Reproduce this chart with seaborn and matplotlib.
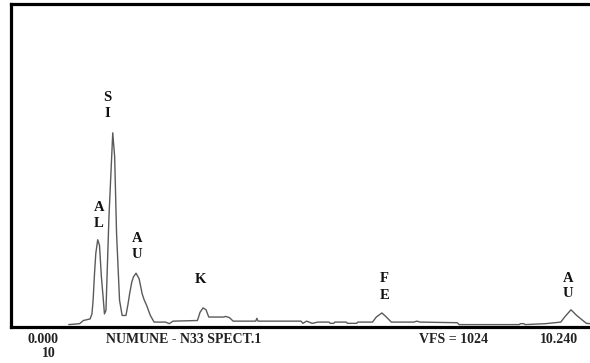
import matplotlib
matplotlib.use("Agg")
import matplotlib.pyplot as plt
import seaborn as sns
import pandas as pd

sns.set_style("white")
plt.rcParams["font.family"] = ["Liberation Serif", "DejaVu Serif"]

# EDS spectrum trace: energy (keV) and counts
energy_kev = [
    1.002, 1.191, 1.257, 1.373, 1.405, 1.425, 1.450, 1.472, 1.505, 1.536,
    1.569, 1.600, 1.622, 1.648, 1.700, 1.766, 1.799, 1.832, 1.884, 1.929,
    1.995, 2.030, 2.059, 2.095, 2.125, 2.170, 2.224, 2.276, 2.310, 2.354,
    2.418, 2.484, 2.681, 2.747, 2.811, 3.236, 3.281, 3.333, 3.385, 3.432,
    3.693, 3.726, 3.792, 3.856, 4.248, 4.267, 4.288, 5.033, 5.066, 5.130,
    5.229, 5.326, 5.520, 5.540, 5.600, 5.620, 5.818, 5.840, 6.000, 6.020,
    6.274, 6.340, 6.437, 6.503, 6.601, 6.993, 7.045, 7.097, 7.745, 7.778,
    8.823, 8.840, 8.900, 8.920, 9.280, 9.542, 9.609, 9.719, 9.818, 9.986,
    10.240,
]
counts = [
    6, 9, 19, 24, 40, 83, 170, 232, 275, 257,
    157, 90, 40, 51, 347, 614, 538, 295, 83, 35,
    35, 70, 104, 140, 157, 169, 151, 104, 85, 67,
    35, 14, 14, 9, 17, 19, 45, 59, 53, 30,
    30, 32, 28, 17, 17, 26, 17, 17, 10, 17,
    10, 14, 14, 10, 10, 14, 14, 10, 10, 14,
    14, 30, 43, 32, 14, 14, 17, 14, 12, 6,
    6, 9, 9, 6, 9, 14, 30, 53, 35, 10,
    6,
]

# Peak identification labels (letters stacked vertically)
peak_letters = ["S", "I", "A", "L", "A", "U", "K", "F", "E", "A", "U"]
peak_x = [1.672, 1.672, 1.524, 1.524, 2.184, 2.184, 3.295, 6.483, 6.483, 9.672, 9.672]
peak_y = [725, 676, 378, 328, 279, 229, 148, 151, 98, 151, 104]

x_start_label = "0.000"
x_end_label = "10.240"
y_min_label = "10"
title_label = "NUMUNE - N33 SPECT.1"
vfs_label = "VFS = 1024"
vfs = 1024
x_range = 10.24

df = pd.DataFrame({"energy": energy_kev, "counts": counts})

W, H = 590, 363
fig = plt.figure(figsize=(W / 100, H / 100), dpi=100)
ax = fig.add_axes([11 / W, 36.5 / H, 590 / W, 323 / H])

sns.lineplot(data=df, x="energy", y="counts", ax=ax, color="#5a5a5a",
             linewidth=1.0, estimator=None, sort=False)

ax.set_xlim(0, x_range)
ax.set_ylim(0, vfs)
ax.set_xticks([])
ax.set_yticks([])
ax.set_xlabel("")
ax.set_ylabel("")
for side in ["left", "top", "bottom", "right"]:
    ax.spines[side].set_color("black")
    ax.spines[side].set_linewidth(2.3)

for letter, px, py in zip(peak_letters, peak_x, peak_y):
    ax.text(px, py, letter, ha="center", va="center", fontsize=10.5,
            fontweight="bold", color="#111111")

label_style = dict(ha="center", va="center", fontsize=10,
                   fontweight="bold", color="#222222")
fig.text(43 / W, 1 - 339.5 / H, x_start_label, **label_style)
fig.text(49 / W, 1 - 353.5 / H, y_min_label, **label_style)
fig.text(184 / W, 1 - 339.5 / H, title_label, **label_style)
fig.text(453.5 / W, 1 - 339.5 / H, vfs_label, **label_style)
fig.text(559 / W, 1 - 339.5 / H, x_end_label, **label_style)

fig.savefig("out.png", dpi=100)
